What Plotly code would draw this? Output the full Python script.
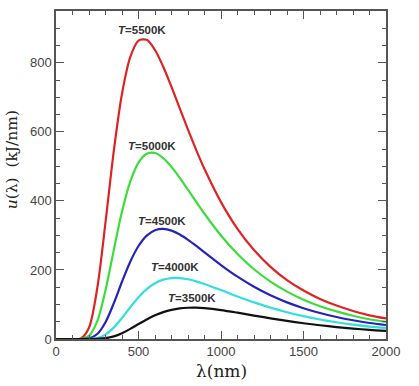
import plotly.graph_objects as go

wavelength = [0, 50, 100, 150, 200, 250, 300, 350, 400, 450, 500, 550, 600, 650, 700, 750, 800, 850, 900,
              1000, 1100, 1200, 1300, 1400, 1500, 1600, 1700, 1800, 1900, 2000]

u_5500 = [0, 0, 0, 1.8, 32.8, 147.0, 337.9, 543.6, 710.3, 816.5, 864.3, 866.4, 837.0, 788.5, 730.1, 668.0, 606.2, 547.2, 492.3,
          396.5, 319.0, 257.5, 209.0, 170.6, 140.3, 116.1, 96.8, 81.2, 68.5, 59.5]
u_5000 = [0, 0, 0, 0.3, 8.9, 51.6, 141.3, 257.3, 369.0, 455.9, 511.0, 536.6, 538.7, 524.0, 498.6, 466.9, 432.3, 397.2, 362.8,
          299.8, 246.2, 202.0, 166.2, 137.3, 113.9, 95.1, 79.9, 67.4, 57.2, 49.5]
u_4500 = [0, 0, 0, 0, 1.8, 14.4, 48.7, 103.2, 165.9, 223.9, 269.3, 299.4, 315.2, 319.0, 313.9, 302.6, 287.3, 269.8, 251.2,
          214.3, 180.5, 151.3, 126.6, 106.1, 89.2, 75.2, 63.7, 54.2, 46.4, 40.5]
u_4000 = [0, 0, 0, 0, 0.2, 2.9, 12.8, 32.9, 61.1, 92.1, 120.9, 144.5, 161.5, 171.9, 176.5, 176.5, 173.0, 167.0, 159.4,
          141.7, 123.3, 106.1, 90.8, 77.5, 66.2, 56.6, 48.5, 41.7, 36.0, 32.0]
u_3500 = [0, 0, 0, 0, 0, 0.4, 2.3, 7.6, 16.9, 29.4, 43.3, 56.7, 68.5, 77.8, 84.5, 88.6, 90.5, 90.7, 89.3,
          83.8, 76.2, 67.9, 59.9, 52.4, 45.7, 39.8, 34.6, 30.2, 26.4, 23.5]

series_names = ["5500K", "5000K", "4500K", "4000K", "3500K"]
series_values = [u_5500, u_5000, u_4500, u_4000, u_3500]
colors = ["#dd2424", "#3ddc3d", "#2424b8", "#33dede", "#111111"]

label_x = [520, 579, 640, 721, 824]
label_y = [895, 560, 343, 208, 118]

x_ticks = [0, 500, 1000, 1500, 2000]
y_ticks = [0, 200, 400, 600, 800]

fig = go.Figure()
for name, vals, col in zip(series_names, series_values, colors):
    fig.add_trace(go.Scatter(x=wavelength, y=vals, mode="lines", name=name,
                             line=dict(color=col, width=2.2, shape="spline", smoothing=0.8)))
# invisible trace to activate mirrored tick axes
fig.add_trace(go.Scatter(x=[0], y=[0], xaxis="x2", yaxis="y2", mode="markers",
                         marker=dict(opacity=0), hoverinfo="skip", showlegend=False))

for name, lx, ly in zip(series_names, label_x, label_y):
    fig.add_annotation(x=lx, y=ly, text="<b><i>T</i>=" + name + "</b>", showarrow=False,
                       font=dict(family="Liberation Sans, Arial", size=11.5, color="#333333"))

tick_style = dict(ticks="inside", ticklen=8, tickwidth=1.2, tickcolor="#555555")
tick_font = dict(family="Liberation Sans, Arial", size=13, color="#444444")

fig.update_layout(
    width=419, height=386, margin=dict(l=56, r=33, t=9, b=47),
    plot_bgcolor="white", paper_bgcolor="white", showlegend=False,
    xaxis=dict(range=[0, 2000], tickvals=x_ticks, showgrid=False, zeroline=False,
               showline=True, mirror=True, linecolor="#555555", linewidth=1.5,
               tickfont=tick_font,
               minor=dict(ticks="inside", dtick=100, ticklen=4, tickwidth=1, tickcolor="#555555"),
               **tick_style),
    yaxis=dict(range=[0, 950], tickvals=y_ticks, showgrid=False, zeroline=False,
               showline=True, mirror=True, linecolor="#555555", linewidth=1.5,
               tickfont=tick_font,
               minor=dict(ticks="inside", dtick=50, ticklen=4, tickwidth=1, tickcolor="#555555"),
               **tick_style),
    xaxis2=dict(range=[0, 2000], tickvals=x_ticks, overlaying="x", side="top", anchor="y",
                showgrid=False, zeroline=False, showline=False, showticklabels=False,
                minor=dict(ticks="inside", dtick=100, ticklen=4, tickwidth=1, tickcolor="#555555"),
                **tick_style),
    yaxis2=dict(range=[0, 950], tickvals=y_ticks, overlaying="y", side="right", anchor="x",
                showgrid=False, zeroline=False, showline=False, showticklabels=False,
                minor=dict(ticks="inside", dtick=50, ticklen=4, tickwidth=1, tickcolor="#555555"),
                **tick_style),
)

fig.add_annotation(text="λ(nm)", xref="paper", yref="paper", x=0.5, y=-0.097, yanchor="middle",
                   showarrow=False, font=dict(family="DejaVu Serif", size=17, color="#222222"))
fig.add_annotation(text="<i>u</i>(λ)  (kJ/nm)", xref="paper", yref="paper", x=-0.133, y=0.545,
                   xanchor="center", yanchor="middle", textangle=-90, showarrow=False,
                   font=dict(family="DejaVu Serif", size=15.5, color="#222222"))

fig.write_html("out.html")
